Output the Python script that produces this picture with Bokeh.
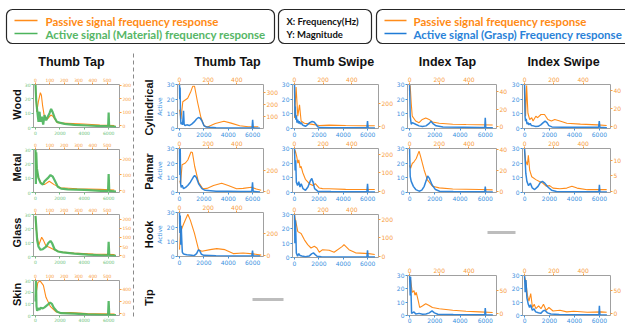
import math
from bokeh.plotting import figure
from bokeh.models import Range1d, LinearAxis, FixedTicker, GridBox
from bokeh.embed import file_html
from bokeh.resources import INLINE
from bokeh.core.properties import value

# ---------------- data ----------------
# Left column: Thumb Tap on materials (green = active, orange = passive)
wood_act_hz = [0, 55, 136, 245, 330, 410, 520, 630, 740, 875, 1010, 1150, 1280, 1390, 1560, 1750, 1965, 2375, 3190, 4290, 5380, 5870, 5960, 6000, 6040, 6600]
wood_act_mag = [30, 19, 12, 4, 11, 4, 7.5, 2, 8.6, 5, 7.5, 10, 13, 11, 7, 4, 3.4, 2.5, 1.8, 1.4, 0.9, 0.9, 0.9, 10.5, 0.9, 0.5]
wood_pas_f = [0, 5, 9, 20, 34, 41, 50, 62, 84, 107, 121, 153, 221, 335, 449, 550]
wood_pas_mag = [300, 180, 102, 179, 246, 227, 146, 66, 50, 79, 70, 21, 18, 12, 5, 1]

metal_act_hz = [0, 30, 60, 110, 245, 410, 600, 740, 1010, 1230, 1420, 1610, 1830, 2100, 2650, 4020, 5380, 5950, 6000, 6050, 6600]
metal_act_mag = [30, 6, 28, 17, 10, 6.7, 5.5, 7.8, 10, 12.2, 11, 7.8, 4, 2.7, 2.2, 1.8, 1.1, 1.1, 12.9, 1.1, 0.6]
metal_pas_f = [0, 5, 16, 39, 62, 96, 130, 175, 290, 450, 550]
metal_pas_mag = [250, 160, 89, 48, 38, 59, 38, 18, 12, 8, 4]

glass_act_hz = [0, 136, 245, 410, 600, 875, 1065, 1230, 1370, 1560, 1830, 2240, 3190, 4290, 5380, 5950, 6000, 6050, 6600]
glass_act_mag = [29, 11.6, 7, 4.8, 5.2, 7, 9.8, 11.1, 9.3, 5.2, 3.6, 3, 2, 1.4, 0.9, 0.9, 10.5, 0.9, 0.5]
glass_pas_f = [0, 4, 16, 23, 43, 55, 73, 96, 130, 175, 267, 404, 552]
glass_pas_mag = [215, 150, 85, 58, 101, 85, 53, 46, 32, 20, 14, 9, 5.5]

skin_act_hz = [0, 40, 80, 130, 200, 330, 410, 600, 740, 1010, 1200, 1340, 1500, 1780, 2100, 3190, 4290, 5380, 5950, 6000, 6050, 6600]
skin_act_mag = [12, 30, 8, 4, 6, 5, 6.6, 6.1, 7, 9.3, 11.1, 10, 6.6, 3.2, 2, 1.6, 0.9, 0.5, 0.5, 12.3, 0.5, 0.3]
skin_pas_f = [0, 16, 32, 55, 73, 103, 141, 175, 244, 358, 552]
skin_pas_mag = [270, 508, 537, 463, 270, 122, 36, 14, 21, 4, -4]

# Grasp grid (blue = active, orange = passive)
ttc_act_hz = [0, 20, 50, 80, 120, 180, 250, 330, 380, 450, 600, 800, 1000, 1200, 1400, 1550, 1700, 1850, 2000, 2200, 2500, 3000, 4000, 5000, 5950, 6000, 6050, 6600]
ttc_act_mag = [30, 20, 28, 8, 3, 4, 2.5, 12, 3, 2, 2.5, 2, 3, 4.5, 6.5, 7.5, 7, 5, 2, 1, 0.8, 0.5, 0.4, 0.4, 0.4, 6, 0.4, 0.2]
ttc_pas_f = [0, 10, 23, 57, 80, 92, 105, 126, 150, 172, 195, 250, 310, 360, 420, 480, 550]
ttc_pas_mag = [157, 80, 223, 252, 310, 350, 350, 219, 91, 26, 15, 44, 62, 47, 26, 18, 18]

ttp_act_hz = [0, 30, 60, 90, 140, 220, 330, 500, 675, 890, 1110, 1240, 1380, 1570, 1840, 2100, 3000, 4000, 5000, 5930, 5990, 6040, 6600]
ttp_act_mag = [30, 12, 30, 6, 3.5, 5, 2.6, 3.5, 4.8, 7, 10.2, 11.7, 10.2, 5.9, 2.6, 1.5, 0.9, 0.9, 0.7, 0.8, 7, 0.8, 0.4]
ttp_pas_f = [2, 7, 18, 41, 58, 80, 90, 106, 133, 163, 191, 237, 294, 340, 398, 444, 501, 536, 570]
ttp_pas_mag = [104, 75, 254, 271, 300, 376, 370, 238, 87, 27, 30, 58, 79, 58, 27, 30, 41, 25, 12]

tth_act_hz = [0, 30, 60, 100, 140, 180, 230, 300, 400, 600, 800, 1000, 1200, 1400, 1550, 1650, 1800, 2000, 3000, 4000, 5000, 5930, 5990, 6040, 6600]
tth_act_mag = [30, 16, 28, 8, 21, 12, 3, 2, 1.5, 1.2, 1, 0.8, 0.6, 2, 4.5, 4, 1.5, 0.8, 0.5, 0.4, 0.4, 0.4, 4, 0.4, 0.3]
tth_pas_f = [0, 7, 30, 58, 76, 104, 133, 156, 214, 260, 317, 375, 444, 513, 570]
tth_pas_mag = [52, 211, 285, 367, 313, 199, 52, 38, 52, 61, 52, 17, 22, 14, 3]

tsc_act_hz = [0, 40, 70, 100, 150, 200, 260, 330, 400, 480, 560, 650, 750, 900, 1050, 1250, 1450, 1600, 1750, 1900, 2100, 3000, 4000, 5000, 5940, 5990, 6040, 6600]
tsc_act_mag = [30, 8, 15, 6, 9, 4, 6, 3.5, 5, 3, 4, 2.5, 2, 1.5, 2.5, 4, 4.8, 4.5, 3, 1.2, 0.6, 0.5, 0.5, 0.5, 0.5, 5, 0.5, 0.4]
tsc_pas_f = [0, 11, 23, 35, 46, 69, 115, 173, 242, 357, 470, 560]
tsc_pas_mag = [73, 336, 88, 185, 47, 28, 20, 9, 12, 8, 6, 6]

tsp_act_hz = [0, 50, 100, 150, 250, 350, 450, 550, 700, 900, 1100, 1300, 1420, 1520, 1650, 1900, 3000, 4500, 5940, 5990, 6040, 6600]
tsp_act_mag = [30, 15, 22, 7, 4.8, 7.4, 3.7, 5.9, 2.6, 1.5, 3.7, 8, 9.6, 7, 2.6, 0.9, 0.7, 0.5, 0.5, 5.9, 0.5, 0.4]
tsp_pas_f = [0, 5, 16, 23, 30, 39, 46, 58, 76, 104, 127, 145, 173, 196, 242, 357, 472, 560]
tsp_pas_mag = [203, 221, 186, 153, 170, 127, 135, 101, 66, 42, 33, 42, 19, 16, 15, 12, 11, 11]

tsh_act_hz = [0, 30, 80, 150, 250, 350, 450, 600, 900, 1200, 1400, 1550, 1700, 1850, 2200, 4000, 5940, 5990, 6040, 6600]
tsh_act_mag = [30, 10, 26, 3.2, 0.9, 2.7, 1.4, 1, 0.6, 1, 2.5, 3.2, 2, 0.9, 0.5, 0.4, 0.4, 5, 0.4, 0.3]
tsh_pas_f = [0, 5, 12, 23, 46, 69, 92, 115, 138, 156, 173, 196, 242, 276, 334, 345, 380, 426, 518, 560]
tsh_pas_mag = [221, 203, 177, 134, 124, 90, 64, 46, 55, 46, 23, 37, 34, 23, 55, 64, 37, 20, 16, 11]

itc_act_hz = [0, 50, 130, 220, 480, 750, 1020, 1300, 1560, 1700, 1830, 2100, 2650, 4270, 5600, 5960, 6000, 6040, 6600]
itc_act_mag = [30, 8.4, 2.9, 4, 2.9, 1.8, 1.3, 1.8, 3.5, 5, 3.5, 1.8, 1.1, 0.9, 0.7, 0.7, 7.3, 0.7, 0.5]
itc_pas_f = [0, 4, 11, 18, 41, 64, 86, 109, 132, 154, 200, 291, 381, 560]
itc_pas_mag = [41, 47, 27, 12, 6.5, 4.6, 8.3, 10, 8.3, 5.4, 3.9, 2.8, 2.5, 2]

itp_act_hz = [0, 50, 130, 300, 490, 760, 970, 1160, 1350, 1430, 1560, 1780, 2050, 2380, 3460, 5600, 5960, 6000, 6040, 6600]
itp_act_mag = [30, 10.9, 7.6, 4.2, 2, 0.9, 1.6, 4.2, 9.1, 11.3, 9.8, 5.3, 2, 0.9, 0.7, 0.5, 0.5, 4, 0.5, 0.4]
itp_pas_f = [0, 7, 18, 30, 45, 64, 75, 98, 120, 154, 200, 291, 472, 560]
itp_pas_mag = [25, 22, 26.7, 28.3, 31.4, 38.5, 33, 20.5, 11, 5, 3.4, 2.4, 1.8, 1.5]

itt_act_hz = [0, 50, 80, 160, 350, 490, 760, 1030, 1300, 1560, 1780, 1970, 2240, 3460, 5600, 5960, 6000, 6040, 6600]
itt_act_mag = [30, 15, 29, 1.6, 2.7, 1.1, 1.6, 0.9, 1.1, 2, 3.4, 2, 0.9, 0.7, 0.5, 0.5, 5.5, 0.5, 0.3]
itt_pas_f = [0, 7, 18, 30, 36, 45, 59, 68, 86, 109, 132, 154, 200, 291, 381, 472, 560]
itt_pas_mag = [77, 74, 47, 50.6, 40.7, 47, 27.6, 13.6, 17, 22, 18, 13.6, 11, 7.4, 5.3, 4, 2.7]

isc_act_hz = [0, 40, 80, 130, 200, 270, 350, 450, 550, 700, 900, 1100, 1300, 1500, 1650, 1800, 1950, 2200, 3000, 4500, 5940, 5990, 6040, 6600]
isc_act_mag = [30, 8, 5, 6.5, 3, 4, 2.5, 3.5, 2, 1.8, 1.3, 1.5, 2.5, 4, 5, 4, 2, 1.1, 0.9, 0.8, 0.8, 5, 0.8, 0.5]
isc_pas_f = [0, 7, 14, 23, 35, 49, 58, 77, 89, 112, 136, 159, 183, 206, 241, 288, 381, 498, 560]
isc_pas_mag = [44, 11.7, 46, 15, 8, 10, 6.3, 11.7, 10, 13.6, 13.6, 8, 6.3, 8, 6.3, 3.8, 2.9, 2, 1.4]

isp_act_hz = [0, 100, 190, 320, 460, 620, 810, 1080, 1270, 1430, 1620, 1890, 2160, 2560, 4450, 5960, 6000, 6040, 6600]
isp_act_mag = [30, 13, 7.5, 4.7, 6.4, 3.1, 2, 4.2, 6.9, 7.6, 6.4, 3.6, 1.6, 0.7, 0.5, 0.5, 5.3, 0.5, 0.3]
isp_pas_f = [0, 7, 19, 26, 35, 49, 77, 101, 124, 147, 171, 194, 241, 288, 323, 358, 428, 522, 560]
isp_pas_mag = [13.1, 9.9, 8.4, 11.5, 6.8, 4.7, 3.8, 3.2, 2.7, 1.7, 1.9, 1.1, 0.9, 1.1, 1.7, 1.1, 0.6, 0.6, 0.6]

ist_act_hz = [0, 50, 110, 190, 300, 400, 490, 620, 760, 890, 1110, 1300, 1480, 1620, 1840, 2110, 2780, 4400, 5960, 6000, 6040, 6600]
ist_act_mag = [30, 17.5, 26.6, 13, 8.4, 6.1, 8, 3.9, 5, 2.7, 2, 1.6, 3.4, 3.9, 2, 1.1, 0.7, 0.5, 0.5, 7.3, 0.5, 0.3]
ist_pas_f = [0, 7, 19, 30, 42, 54, 66, 77, 96, 112, 129, 147, 166, 194, 241, 288, 335, 428, 522, 560]
ist_pas_mag = [80.5, 74, 40.7, 27.6, 44, 13.6, 20.7, 11, 17, 11, 20.7, 7.4, 13.6, 6, 7.4, 4, 5.3, 3.3, 4, 3.3]

# tick labels
active_ticks = [0, 10, 20, 30]
hz_ticks = [0, 2000, 4000, 6000]
top_ticks_main = [0, 200, 400]
top_ticks_mat = [0, 100, 200, 300, 400, 500]

col_titles = ["Thumb Tap", "Thumb Tap", "Thumb Swipe", "Index Tap", "Index Swipe"]
mat_labels = ["Wood", "Metal", "Glass", "Skin"]
grasp_labels = ["Cylindrical", "Palmar", "Hook", "Tip"]

# ---------------- style ----------------
ORANGE = "#ff8c1a"
BLUE = "#1f7bd6"
GREEN = "#4cb45c"
ORANGE_T = "#f89c40"
BLUE_T = "#3a90e0"
GREEN_T = "#6cc27a"
FRAME = "#a0a0a0"
W, H = 625, 327

children = []

# ---------------- canvas for header / labels ----------------
cv = figure(width=W, height=H, x_range=Range1d(0, W), y_range=Range1d(H, 0),
            toolbar_location=None, output_backend="svg", min_border=0,
            x_axis_location=None, y_axis_location=None, title=None)
cv.outline_line_color = None
cv.background_fill_color = None
cv.border_fill_color = None
cv.xgrid.visible = False
cv.ygrid.visible = False

cv.quad(left=[6, 278, 376], right=[274, 371, 660], top=[9, 9, 9], bottom=[43, 43, 43],
        fill_color=None, line_color="#262626", line_width=1.2, border_radius=6)
cv.segment(x0=[14, 14, 384, 384], x1=[37, 37, 406, 406], y0=[20, 33, 20, 33], y1=[20, 33, 20, 33],
           line_color=[ORANGE, GREEN, ORANGE, BLUE], line_width=1.6)
cv.text(x=[45, 45, 413, 413], y=[20.5, 33.5, 20.5, 33.5],
        text=["Passive signal  frequency response", "Active signal (Material) frequency response",
              "Passive signal  frequency response", "Active signal (Grasp) Frequency response"],
        text_color=["#ff8a14", "#56b666", "#ff8a14", "#2a82d8"],
        text_font=value("Lato"), text_font_style="bold", text_font_size="11.5px",
        text_align="left", text_baseline="middle")
cv.text(x=[286, 286], y=[20.5, 33.5], text=["X: Frequency(Hz)", "Y: Magnitude"],
        text_color="#111111", text_font=value("Lato"), text_font_style="bold",
        text_font_size="9.5px", text_align="left", text_baseline="middle")
cv.text(x=[71, 227, 333, 447, 563], y=[61, 61, 61, 61, 61], text=col_titles,
        text_color="#111111", text_font=value("Liberation Sans"), text_font_style="bold",
        text_font_size="12.5px", text_align="center", text_baseline="middle")
cv.text(x=[16, 16, 16, 16], y=[104, 167, 232, 294], text=mat_labels, angle=math.pi / 2,
        text_color="#111111", text_font=value("Liberation Sans"), text_font_style="bold",
        text_font_size="11px", text_align="center", text_baseline="middle")
cv.text(x=[148, 148, 148, 148], y=[107, 171, 234, 297], text=grasp_labels, angle=math.pi / 2,
        text_color="#111111", text_font=value("Liberation Sans"), text_font_style="bold",
        text_font_size="11px", text_align="center", text_baseline="middle")
cv.line(x=[133, 133], y=[53, 317], line_color="#8a8a8a", line_width=1, line_dash="4 3")
cv.segment(x0=[252, 487], x1=[283, 515], y0=[299, 232], y1=[299, 232],
           line_color="#bdbdbd", line_width=3)
children.append((cv, 0, 0, H, W))


def style_axis(ax, color, size, standoff=1):
    ax.axis_line_color = None
    ax.major_tick_line_color = color
    ax.major_tick_out = 2
    ax.major_tick_in = 0
    ax.minor_tick_line_color = None
    ax.major_label_text_color = color
    ax.major_label_text_font = "DejaVu Sans"
    ax.major_label_text_font_size = size
    ax.major_label_standoff = standoff


def panel(frame, borders, act_x, act_y, pas_x, pas_y, right_rng, right_ticks, top_ticks,
          act_color, act_tcolor, tick_size, active_label=False, bottom_standoff=1, act_width=1.5):
    fx0, fy0, fx1, fy1 = frame
    bl, bt, br, bb = borders
    p = figure(frame_width=fx1 - fx0, frame_height=fy1 - fy0,
               x_range=Range1d(-165, 6890), y_range=Range1d(0, 30),
               min_border_left=bl, min_border_top=bt, min_border_right=br, min_border_bottom=bb,
               toolbar_location=None, output_backend="svg",
               x_axis_location=None, y_axis_location=None, title=None)
    p.border_fill_color = None
    p.background_fill_color = "white"
    p.outline_line_color = FRAME
    p.outline_line_width = 1
    p.xgrid.visible = False
    p.ygrid.visible = False
    p.extra_x_ranges = {"pas": Range1d(-14, 586)}
    p.extra_y_ranges = {"pasm": Range1d(*right_rng)}

    left = LinearAxis(ticker=FixedTicker(ticks=active_ticks))
    style_axis(left, act_tcolor, tick_size)
    if active_label:
        left.axis_label = "Active"
        left.axis_label_text_font = "DejaVu Sans"
        left.axis_label_text_font_size = "6px"
        left.axis_label_text_font_style = "normal"
        left.axis_label_text_color = act_tcolor
        left.axis_label_standoff = 1
    p.add_layout(left, "left")
    bottom = LinearAxis(ticker=FixedTicker(ticks=hz_ticks))
    style_axis(bottom, act_tcolor, tick_size, bottom_standoff)
    p.add_layout(bottom, "below")
    top = LinearAxis(x_range_name="pas", ticker=FixedTicker(ticks=top_ticks))
    style_axis(top, ORANGE_T, tick_size)
    p.add_layout(top, "above")
    right = LinearAxis(y_range_name="pasm", ticker=FixedTicker(ticks=right_ticks))
    style_axis(right, ORANGE_T, tick_size)
    p.add_layout(right, "right")

    p.line(pas_x, pas_y, x_range_name="pas", y_range_name="pasm", line_color=ORANGE, line_width=1.1)
    p.line(act_x, act_y, line_color=act_color, line_width=act_width, line_alpha=0.92)

    w = fx1 - fx0 + bl + br
    h = fy1 - fy0 + bt + bb
    row = fy0 - bt
    col = fx0 - bl
    children.append((p, row, col, min(h, H - row), min(w, W - col)))


# materials column
GB = (11, 9, 16, 9)
panel((32, 83, 119, 128), GB, wood_act_hz, wood_act_mag, wood_pas_f, wood_pas_mag, (-14, 307), [0, 100, 200, 300], top_ticks_mat, GREEN, GREEN_T, "4.5px", act_width=2.2)
panel((32, 148, 119, 193), GB, metal_act_hz, metal_act_mag, metal_pas_f, metal_pas_mag, (-12, 261), [0, 100, 200], top_ticks_mat, GREEN, GREEN_T, "4.5px", act_width=2.2)
panel((32, 213, 119, 257), GB, glass_act_hz, glass_act_mag, glass_pas_f, glass_pas_mag, (-5, 226), [0, 50, 100, 150, 200], top_ticks_mat, GREEN, GREEN_T, "4.5px", act_width=2.2)
panel((32, 279, 119, 316), (11, 9, 16, 8), skin_act_hz, skin_act_mag, skin_pas_f, skin_pas_mag, (-26, 542), [0, 200, 400], top_ticks_mat, GREEN, GREEN_T, "4.5px", bottom_standoff=0, act_width=2.2)

# grasp grid
TTB = (24, 11, 20, 10)
TSB = (15, 11, 20, 10)
ITB = (15, 11, 20, 10)
ISB = (15, 11, 14, 10)
panel((176, 84, 263, 129), TTB, ttc_act_hz, ttc_act_mag, ttc_pas_f, ttc_pas_mag, (3, 365), [100, 200, 300], top_ticks_main, BLUE, BLUE_T, "6px", active_label=True)
panel((176, 148, 263, 193), TTB, ttp_act_hz, ttp_act_mag, ttp_pas_f, ttp_pas_mag, (-9, 409), [0, 200], top_ticks_main, BLUE, BLUE_T, "6px", active_label=True)
panel((176, 212, 263, 257), TTB, tth_act_hz, tth_act_mag, tth_pas_f, tth_pas_mag, (-9, 383), [0, 200], top_ticks_main, BLUE, BLUE_T, "6px", active_label=True)
panel((292, 84, 378, 129), TSB, tsc_act_hz, tsc_act_mag, tsc_pas_f, tsc_pas_mag, (-17, 358), [0, 200], top_ticks_main, BLUE, BLUE_T, "6px")
panel((292, 148, 378, 193), TSB, tsp_act_hz, tsp_act_mag, tsp_pas_f, tsp_pas_mag, (-5, 231), [0, 100, 200], top_ticks_main, BLUE, BLUE_T, "6px")
panel((292, 214, 378, 258), TSB, tsh_act_hz, tsh_act_mag, tsh_pas_f, tsh_pas_mag, (-5, 226), [0, 100, 200], top_ticks_main, BLUE, BLUE_T, "6px")
panel((407, 84, 496, 129), ITB, itc_act_hz, itc_act_mag, itc_pas_f, itc_pas_mag, (-2, 48), [0, 20, 40], top_ticks_main, BLUE, BLUE_T, "6px")
panel((407, 148, 496, 193), ITB, itp_act_hz, itp_act_mag, itp_pas_f, itp_pas_mag, (-1, 41), [0, 20, 40], top_ticks_main, BLUE, BLUE_T, "6px")
panel((407, 275, 496, 315), (15, 11, 20, 10), itt_act_hz, itt_act_mag, itt_pas_f, itt_pas_mag, (-4, 84), [0, 50], top_ticks_main, BLUE, BLUE_T, "6px", bottom_standoff=0)
panel((522, 84, 610, 129), ISB, isc_act_hz, isc_act_mag, isc_pas_f, isc_pas_mag, (-2, 47), [0, 20, 40], top_ticks_main, BLUE, BLUE_T, "6px")
panel((522, 148, 610, 193), ISB, isp_act_hz, isp_act_mag, isp_pas_f, isp_pas_mag, (-0.3, 13.7), [0, 5, 10], top_ticks_main, BLUE, BLUE_T, "6px")
panel((522, 275, 610, 315), (15, 11, 14, 10), ist_act_hz, ist_act_mag, ist_pas_f, ist_pas_mag, (-4, 84), [0, 50], top_ticks_main, BLUE, BLUE_T, "6px", bottom_standoff=0)

layout = GridBox(children=children, rows="1px", cols="1px", spacing=0)

open("out.html", "w").write(file_html(layout, INLINE))
